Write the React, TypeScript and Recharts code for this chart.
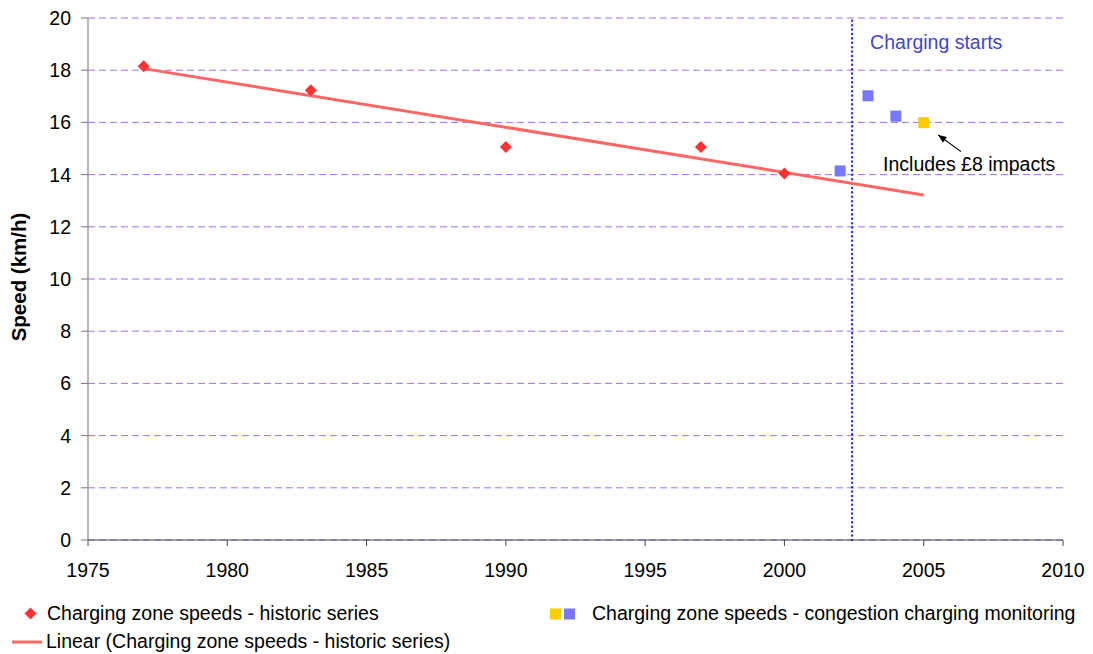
import React from "react";
import {
  ComposedChart,
  Line,
  Scatter,
  XAxis,
  YAxis,
  CartesianGrid,
  ReferenceLine,
} from "recharts";

// values
const historicYears = [1977, 1983, 1990, 1997, 2000];
const historicSpeeds = [18.15, 17.23, 15.06, 15.06, 14.04];

const monitoringYears = [2002, 2003, 2004];
const monitoringSpeeds = [14.14, 17.02, 16.24];

const impactYears = [2005];
const impactSpeeds = [15.99];

const trendYears = [1977, 2005];
const trendSpeeds = [18.06, 13.22];

const xTicks = [1975, 1980, 1985, 1990, 1995, 2000, 2005, 2010];
const yTicks = [0, 2, 4, 6, 8, 10, 12, 14, 16, 18, 20];

const chargingStartYear = 2002.43;

const toRows = (xs: number[], ys: number[]) => xs.map((year, i) => ({ year, speed: ys[i] }));

const historic = toRows(historicYears, historicSpeeds);
const monitoring = toRows(monitoringYears, monitoringSpeeds);
const impact = toRows(impactYears, impactSpeeds);
const trend = toRows(trendYears, trendSpeeds);

const FONT = "'Liberation Sans', Arial, sans-serif";
const FS = 19.5;

const RED = "#ff3333";
const TREND = "#ff6666";
const BLUE = "#7777ff";
const YELLOW = "#ffcc00";
const DOTTED = "#3333cc";

const Diamond = (props: any) => {
  const { cx, cy } = props;
  const r = 6;
  return <polygon points={`${cx},${cy - r} ${cx + r},${cy} ${cx},${cy + r} ${cx - r},${cy}`} fill={RED} />;
};

const square = (color: string) => (props: any) => {
  const { cx, cy } = props;
  return <rect x={cx - 5.5} y={cy - 5.5} width={11} height={11} fill={color} />;
};

const Arrow = (props: any) => {
  const { x1, y1, x2, y2 } = props;
  if (x1 == null) return null;
  // tail (x1,y1) -> tip (x2,y2)
  const ang = Math.atan2(y2 - y1, x2 - x1);
  const len = 9;
  const spread = 0.4;
  const p1 = [x2 - len * Math.cos(ang - spread), y2 - len * Math.sin(ang - spread)];
  const p2 = [x2 - len * Math.cos(ang + spread), y2 - len * Math.sin(ang + spread)];
  return (
    <g>
      <line x1={x1} y1={y1} x2={x2} y2={y2} stroke="#000" strokeWidth={1.2} />
      <polygon points={`${x2},${y2} ${p1[0]},${p1[1]} ${p2[0]},${p2[1]}`} fill="#000" />
      <text x={x1 - 78} y={y1 + 19} fontFamily={FONT} fontSize={FS} fill="#000">
        Includes £8 impacts
      </text>
    </g>
  );
};

const YLabel = (p: any) => {
  const vb = p.viewBox || {};
  const cy = (vb.y ?? 0) + (vb.height ?? 0) / 2 - 2;
  return (
    <text
      x={26}
      y={cy}
      transform={`rotate(-90 26 ${cy})`}
      textAnchor="middle"
      fontFamily={FONT}
      fontSize={20.5}
      fontWeight="bold"
      fill="#000"
    >
      Speed (km/h)
    </text>
  );
};

export default function App() {
  return (
    <div style={{ position: "absolute", left: 0, top: 0, width: 1093, height: 654, background: "#fff", fontFamily: FONT }}>
      <ComposedChart
        width={1093}
        height={580}
        margin={{ top: 18, right: 30, left: 0, bottom: 0 }}
      >
        <CartesianGrid horizontal vertical={false} stroke="#a070ff" strokeDasharray="7 4" />
        <XAxis
          type="number"
          dataKey="year"
          domain={[1975, 2010]}
          ticks={xTicks}
          allowDataOverflow
          height={40}
          tickSize={6}
          tickMargin={17}
          stroke="#444"
          tick={{ fontSize: FS, fill: "#000", fontFamily: FONT }}
        />
        <YAxis
          type="number"
          dataKey="speed"
          domain={[0, 20]}
          ticks={yTicks}
          width={88}
          tickSize={7}
          tickMargin={10}
          stroke="#777"
          tick={{ fontSize: FS, fill: "#000", fontFamily: FONT }}
          label={YLabel}
        />
        <ReferenceLine
          x={chargingStartYear}
          stroke={DOTTED}
          strokeWidth={2.4}
          strokeLinecap="round"
          strokeDasharray="0.1 4.3"
          label={(p: any) => {
            const vb = p.viewBox || {};
            return (
              <text x={(vb.x ?? 0) + 18} y={(vb.y ?? 0) + 31} fontFamily={FONT} fontSize={FS} fill="#4444cc">
                Charging starts
              </text>
            );
          }}
        />
        <Line
          data={trend}
          dataKey="speed"
          type="linear"
          stroke={TREND}
          strokeWidth={3}
          dot={false}
          activeDot={false}
          isAnimationActive={false}
        />
        <Scatter data={historic} dataKey="speed" shape={Diamond} isAnimationActive={false} />
        <Scatter data={monitoring} dataKey="speed" shape={square(BLUE)} isAnimationActive={false} />
        <Scatter data={impact} dataKey="speed" shape={square(YELLOW)} isAnimationActive={false} />
        <ReferenceLine
          segment={[
            { x: 2006.34, y: 14.88 },
            { x: 2005.52, y: 15.52 },
          ]}
          shape={Arrow}
          ifOverflow="visible"
        />
      </ComposedChart>

      {/* legend */}
      <div style={{ position: "absolute", left: 0, top: 598, width: 1093, height: 56, fontSize: FS, color: "#000" }}>
        <svg style={{ position: "absolute", left: 24, top: 9 }} width={13} height={13}>
          <polygon points="6.5,0.5 12.5,6.5 6.5,12.5 0.5,6.5" fill={RED} />
        </svg>
        <div style={{ position: "absolute", left: 47, top: 4, whiteSpace: "nowrap", lineHeight: "22px" }}>
          Charging zone speeds - historic series
        </div>
        <svg style={{ position: "absolute", left: 549, top: 10 }} width={28} height={12}>
          <rect x={1} y={0.5} width={11} height={11} fill={YELLOW} />
          <rect x={15} y={0.5} width={11} height={11} fill={BLUE} />
        </svg>
        <div style={{ position: "absolute", left: 592, top: 4, whiteSpace: "nowrap", lineHeight: "22px" }}>
          Charging zone speeds - congestion charging monitoring
        </div>
        <svg style={{ position: "absolute", left: 12, top: 41 }} width={32} height={6}>
          <line x1={0} y1={3} x2={30} y2={3} stroke={TREND} strokeWidth={3} />
        </svg>
        <div style={{ position: "absolute", left: 46, top: 32, whiteSpace: "nowrap", lineHeight: "22px" }}>
          Linear (Charging zone speeds - historic series)
        </div>
      </div>
    </div>
  );
}
